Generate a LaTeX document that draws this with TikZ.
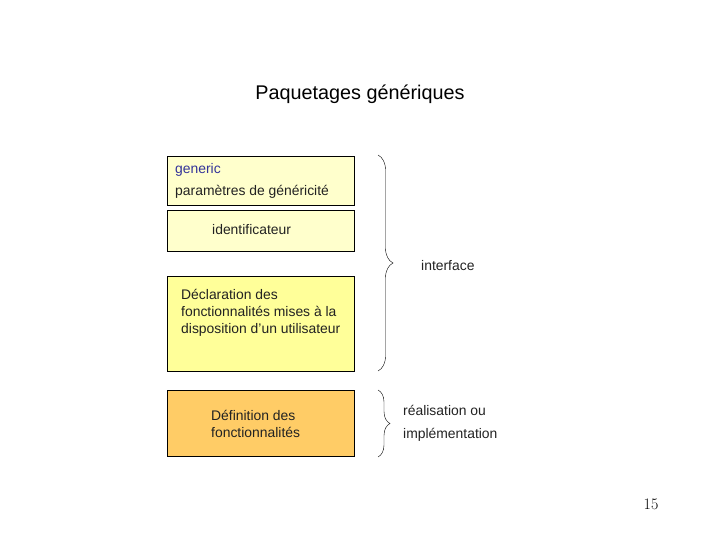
\documentclass[tikz,border=0pt]{standalone}
\usepackage{fontspec}
\setmainfont{Liberation Sans}
\setsansfont{Liberation Sans}
\usetikzlibrary{decorations.pathreplacing}

\definecolor{paleyellow}{HTML}{FFFFCC}
\definecolor{lightyellow}{HTML}{FFFF99}
\definecolor{lightorange}{HTML}{FFCC66}
\definecolor{slateblue}{HTML}{333399}
\definecolor{textgray}{HTML}{222222}

\begin{document}
\begin{tikzpicture}[x=1pt, y=-1pt,
    box/.style={draw, thin, anchor=north west, inner sep=0pt, minimum width=187pt},
    txt/.style={anchor=west, inner sep=0pt, text=textgray, font=\fontsize{13.9}{17}\selectfont},
    curly/.style={decorate, decoration={brace, amplitude=#1}, thin}]
    \useasboundingbox (0,0) rectangle (720,540);

    % Title
    \node[anchor=center, font=\fontsize{19.8}{22}\selectfont] (title) at (360,94) {Paquetages génériques};

    % Boxes
    \node[box, fill=paleyellow, minimum height=49pt] (generic) at (167,156) {};
    \node[box, fill=paleyellow, minimum height=41pt] (ident) at (167,210) {};
    \node[box, fill=lightyellow, minimum height=95pt] (decl) at (167,276) {};
    \node[box, fill=lightorange, minimum height=66pt] (def) at (167,390) {};

    % Texts in boxes
    \node[txt, text=slateblue] (kw) at (175,170) {generic};
    \node[txt] (param) at (175,192) {paramètres de généricité};
    \node[txt] (idtxt) at (212,230) {identificateur};
    \node[txt, align=left] (decltxt) at (181,313)
        {Déclaration des\\fonctionnalités mises à la\\disposition d'un utilisateur};
    \node[txt, align=left] (deftxt) at (211,423.5) {Définition des\\fonctionnalités};

    % Braces
    \coordinate (ifTop) at (378,155);
    \coordinate (ifBot) at (378,371);
    \coordinate (imTop) at (378,390);
    \coordinate (imBot) at (378,457);
    \draw[curly=15pt] (ifTop) -- (ifBot);
    \draw[curly=12pt] (imTop) -- (imBot);

    % Labels
    \node[txt] (iface) at (421,266) {interface};
    \node[txt] (real) at (403,410) {réalisation ou};
    \node[txt] (impl) at (403,435) {implémentation};

    % Page number
    \node[anchor=center, font=\fontfamily{lmr}\fontsize{16}{18}\selectfont] (page) at (651,504) {15};
\end{tikzpicture}
\end{document}
